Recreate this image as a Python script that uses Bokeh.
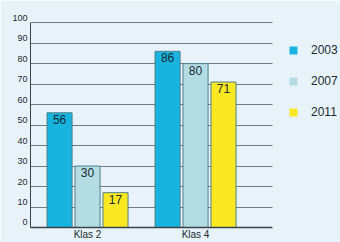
import numpy as np
from bokeh.plotting import figure
from bokeh.models import (ColumnDataSource, LabelSet, FixedTicker, Legend, LegendItem,
                          LinearAxis, Range1d, BoxAnnotation)
from bokeh.core.properties import value
from bokeh.embed import file_html
from bokeh.resources import INLINE

categories = ["Klas 2", "Klas 4"]
years = ["2003", "2007", "2011"]
v2003 = [56, 86]
v2007 = [30, 80]
v2011 = [17, 71]
y_ticks = [0, 10, 20, 30, 40, 50, 60, 70, 80, 90, 100]

colors = ["#16b4df", "#b3dce3", "#fae823"]
bg = "#e7f3f9"
grid_col = "#6e7d82"
text_col = "#1b2a33"
font = "Liberation Sans"

x_start, x_end, grid_end = -0.528, 2.342, 1.713
y_top = 103
shift = 2.45  # tick labels sit a little above their grid lines

p = figure(width=340, height=242, output_backend="svg", toolbar_location=None,
           x_range=(x_start, x_end), y_range=(0, y_top),
           min_border_left=30, min_border_right=0, min_border_top=16, min_border_bottom=14)
p.background_fill_color = bg
p.border_fill_color = bg
p.outline_line_color = None
p.xgrid.visible = False
p.ygrid.ticker = FixedTicker(ticks=y_ticks)
p.ygrid.grid_line_color = grid_col
p.ygrid.grid_line_width = 1

p.yaxis.visible = False
xa = p.xaxis[0]
xa.ticker = FixedTicker(ticks=list(range(len(categories))))
xa.major_label_overrides = {i: c for i, c in enumerate(categories)}
xa.major_tick_line_color = None
xa.minor_tick_line_color = None
xa.major_tick_out = 0
xa.major_tick_in = 0
xa.minor_tick_out = 0
xa.minor_tick_in = 0
xa.bounds = (x_start, grid_end)
xa.axis_line_color = "#3a4448"
xa.axis_line_width = 1.5
xa.major_label_standoff = 1
xa.major_label_text_font = font
xa.major_label_text_font_size = "10px"
xa.major_label_text_color = text_col

p.extra_y_ranges = {"lab": Range1d(-shift, y_top - shift)}
ya = LinearAxis(y_range_name="lab", ticker=FixedTicker(ticks=y_ticks),
                bounds=(-shift, 100 - shift))
ya.major_tick_line_color = None
ya.minor_tick_line_color = None
ya.major_tick_out = 0
ya.major_tick_in = 0
ya.axis_line_color = "#3a4448"
ya.axis_line_width = 1
ya.major_label_standoff = 3
ya.major_label_text_font = font
ya.major_label_text_font_size = "9px"
ya.major_label_text_color = text_col
p.add_layout(ya, "left")

# hide grid lines to the right of the plotting area (legend region)
p.add_layout(BoxAnnotation(left=grid_end, fill_color=bg, fill_alpha=1, line_color=None))

offsets = [-0.259, 0.0, 0.259]
series = [v2003, v2007, v2011]
gx = np.arange(len(categories))
items = []
for off, vals, col, yr in zip(offsets, series, colors, years):
    src = ColumnDataSource(dict(x=gx + off, top=vals, lab=[str(v) for v in vals]))
    p.vbar(x="x", top="top", bottom=0, width=0.232, source=src,
           fill_color=col, line_color="#4f7f8c", line_width=1)
    p.add_layout(LabelSet(x="x", y="top", text="lab", source=src, y_offset=-2,
                          text_align="center", text_baseline="top",
                          text_font=value(font), text_font_size="12px", text_color=text_col))
    # legend swatch renderer (no visible data, flat swatch without outline)
    r = p.vbar(x=[np.nan], top=[np.nan], width=0.1, fill_color=col, line_color=None)
    items.append(LegendItem(label=yr, renderers=[r]))

legend = Legend(items=items, location=(258, 108), orientation="vertical",
                glyph_width=10, glyph_height=10, label_standoff=13, spacing=17,
                padding=0, margin=0, border_line_color=None, background_fill_alpha=0,
                label_text_font=font, label_text_font_size="12px", label_text_color=text_col)
p.add_layout(legend, "center")

open("out.html", "w").write(file_html(p, INLINE))
